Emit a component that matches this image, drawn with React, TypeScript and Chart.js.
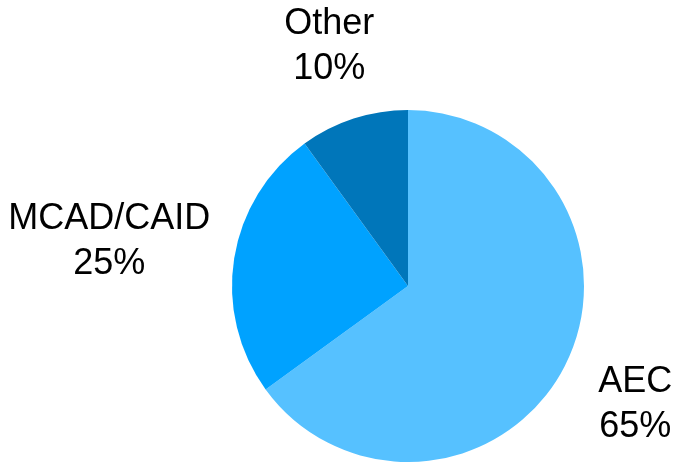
import React, { useEffect, useRef } from "react";
import { Chart, registerables } from "chart.js";

Chart.register(...registerables);

const categories = ["AEC", "MCAD/CAID", "Other"];
const shares = [65, 25, 10];
const sliceColors = ["#56C1FF", "#00A2FF", "#0076BA"];

const FONT = 'Helvetica, Arial, "Liberation Sans", sans-serif';

const outerLabels = {
  id: "outerLabels",
  afterDraw(chart: any) {
    const ctx = chart.ctx as CanvasRenderingContext2D;
    const meta = chart.getDatasetMeta(0);
    const data = chart.data.datasets[0].data as number[];
    const total = data.reduce((a, b) => a + b, 0);
    const fs = 36;
    const lh = 45;
    const capH = 0.716 * fs;
    ctx.save();
    ctx.font = `${fs}px ${FONT}`;
    ctx.fillStyle = "#000";
    ctx.textAlign = "center";
    ctx.textBaseline = "alphabetic";
    meta.data.forEach((arc: any, i: number) => {
      const p = arc.getProps(["x", "y", "startAngle", "endAngle", "outerRadius"], true);
      const mid = (p.startAngle + p.endAngle) / 2;
      const dx = Math.cos(mid);
      const dy = Math.sin(mid);
      const lines = [String(chart.data.labels[i]), `${Math.round((data[i] / total) * 100)}%`];
      const hw = Math.max(...lines.map((l) => ctx.measureText(l).width)) / 2;
      const hh = (capH + lh * (lines.length - 1)) / 2;
      const clearance = p.outerRadius + 22;
      const dist = (D: number) => {
        const cx = dx * D;
        const cy = dy * D;
        const nx = Math.max(cx - hw, Math.min(0, cx + hw));
        const ny = Math.max(cy - hh, Math.min(0, cy + hh));
        return Math.hypot(nx, ny);
      };
      let D = p.outerRadius + 79;
      let guard = 0;
      while (dist(D) < clearance && guard < 2000) {
        D += 0.5;
        guard++;
      }
      const cx = p.x + dx * D;
      const cy = p.y + dy * D;
      const top = cy - hh;
      lines.forEach((l, j) => ctx.fillText(l, cx, top + capH + j * lh));
    });
    ctx.restore();
  },
};

export default function App() {
  const ref = useRef<HTMLCanvasElement | null>(null);
  useEffect(() => {
    if (!ref.current) return;
    const chart = new Chart(ref.current, {
      type: "pie",
      data: {
        labels: categories,
        datasets: [
          {
            data: shares,
            backgroundColor: sliceColors,
            borderWidth: 0,
            hoverOffset: 0,
            offset: 0,
          },
        ],
      },
      options: {
        responsive: false,
        animation: false,
        devicePixelRatio: 1,
        layout: { padding: { left: 232, right: 89, top: 110, bottom: 0 } },
        plugins: {
          legend: { display: false },
          tooltip: { enabled: false },
        },
      },
      plugins: [outerLabels],
    });
    return () => chart.destroy();
  }, []);
  return (
    <div style={{ position: "absolute", left: 0, top: 0, width: 673, height: 462, background: "#fff" }}>
      <canvas ref={ref} width={673} height={462} style={{ width: 673, height: 462 }} />
    </div>
  );
}
